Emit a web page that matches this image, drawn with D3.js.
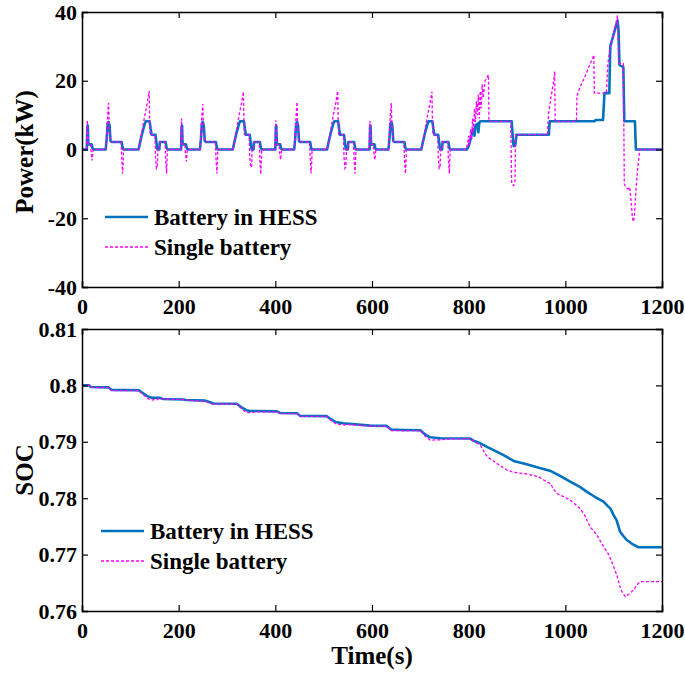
<!DOCTYPE html>
<html><head><meta charset="utf-8">
<script src="https://cdn.jsdelivr.net/npm/d3@7"></script>
<style>body{margin:0;background:#fff}svg{display:block}text{font-family:"Liberation Serif","Times New Roman",serif;font-weight:bold}</style>
</head><body>
<script>
// ---- data ----
const timeTicks = [0,200,400,600,800,1000,1200];
const powerTicks = [-40,-20,0,20,40];
const socTicks = [0.76,0.77,0.78,0.79,0.8,0.81];
const seriesNames = ["Battery in HESS","Single battery"];

const powerHESS = [
[0,0],[10,0],[11,6.5],[12,7],[13,2],[14,1.5],[20,1.5],[22,0.3],[24,0],[49,0],[51,3],[53,7.5],[55,8],[57,7],[59,2.5],[61,2.2],[82,2.2],[84,0.5],[86,0],[117,0],[120,2],[125,5],[130,7.5],[132,8.2],[140,8.2],[142,6],[144,4.3],[152,4.3],[154,2],[156,0],[160,0],[161,2.2],[173,2.2],[175,0.5],[177,0],
[205,0],[206,6.5],[207,7],[208,2],[209,1.5],[215,1.5],[217,0.3],[219,0],[244,0],[246,3],[248,7.5],[250,8],[252,7],[254,2.5],[256,2.2],[277,2.2],[279,0.5],[281,0],[312,0],[315,2],[320,5],[325,7.5],[327,8.2],[335,8.2],[337,6],[339,4.3],[347,4.3],[349,2],[351,0],[355,0],[356,2.2],[368,2.2],[370,0.5],[372,0],
[400,0],[401,6.5],[402,7],[403,2],[404,1.5],[410,1.5],[412,0.3],[414,0],[439,0],[441,3],[443,7.5],[445,8],[447,7],[449,2.5],[451,2.2],[472,2.2],[474,0.5],[476,0],[507,0],[510,2],[515,5],[520,7.5],[522,8.2],[530,8.2],[532,6],[534,4.3],[542,4.3],[544,2],[546,0],[550,0],[551,2.2],[563,2.2],[565,0.5],[567,0],
[595,0],[596,6.5],[597,7],[598,2],[599,1.5],[605,1.5],[607,0.3],[609,0],[634,0],[636,3],[638,7.5],[640,8],[642,7],[644,2.5],[646,2.2],[667,2.2],[669,0.5],[671,0],[702,0],[705,2],[710,5],[715,7.5],[717,8.2],[725,8.2],[727,6],[729,4.3],[737,4.3],[739,2],[741,0],[745,0],[746,2.2],[758,2.2],[760,0.5],[762,0],
[796,0],[800,1],[804,3],[808,5.5],[810,6],[812,4],[814,7],[818,7.5],[820,5],[822,7.8],[824,8.2],[889,8.2],[891,4],[893,1],[896,1],[898,3],[899,4.3],[966,4.3],[967,7],[968,8.2],[1060,8.2],[1063,8.6],[1078,8.6],[1081,16.4],[1091,16.4],[1093,30],[1097,32],[1102,34.5],[1108,37.5],[1110,35],[1112,24.6],[1120,24],[1122,8.2],[1144,8.2],[1146,0],[1200,0]
];

const powerSingle = [
[0,0],[9,0],[10,4],[11,8.5],[12,5],[13,1.5],[18,1.5],[19,-1],[21,-3.2],[22,-1.5],[23,0],[49,0],[51,4],[53,10],[55,13.5],[56,8],[58,3],[61,2.2],[81,2.2],[82,-2],[84,-7],[85,-5],[86,0],[117,0],[120,2],[125,6],[130,10],[135,13.5],[139,17],[140,8.5],[141,4.3],[151,4.3],[152,-2],[154,-5.5],[156,-5],[157,0],[160,0],[161,2.2],[172,2.2],[173,-3],[175,-7],[176,-3],[177,0],
[204,0],[205,4],[206,9],[207,5],[208,1.5],[213,1.5],[214,-1],[216,-3.5],[217,-1.5],[218,0],[244,0],[246,4],[248,10],[250,13.2],[251,8],[253,3],[256,2.2],[276,2.2],[277,-2],[279,-7],[280,-5],[281,0],[312,0],[315,2],[320,6],[325,10],[330,13.5],[334,16.8],[335,8.5],[336,4.3],[346,4.3],[347,-2],[349,-5.2],[351,-5],[352,0],[355,0],[356,2.2],[367,2.2],[368,-3],[370,-7.2],[371,-3],[372,0],
[399,0],[400,4],[401,8.5],[402,5],[403,1.5],[408,1.5],[409,-1],[411,-3],[412,-1.5],[413,0],[439,0],[441,4],[443,10],[445,13.8],[446,8],[448,3],[451,2.2],[471,2.2],[472,-2],[474,-7],[475,-5],[476,0],[507,0],[510,2],[515,6],[520,10],[525,13.5],[529,17],[530,8.5],[531,4.3],[541,4.3],[542,-2],[544,-5.5],[546,-5],[547,0],[550,0],[551,2.2],[562,2.2],[563,-3],[565,-7],[566,-3],[567,0],
[594,0],[595,4],[596,8.3],[597,5],[598,1.5],[603,1.5],[604,-1],[606,-3],[607,-1.5],[608,0],[634,0],[636,4],[638,10],[640,13.5],[641,8],[643,3],[646,2.2],[666,2.2],[667,-2],[669,-7],[670,-5],[671,0],[702,0],[705,2],[710,6],[715,10],[720,13.5],[724,16.8],[725,8.5],[726,4.3],[736,4.3],[737,-2],[739,-5.5],[741,-5],[742,0],[745,0],[746,2.2],[757,2.2],[758,-3],[760,-7],[761,-3],[762,0],
[795,0],[798,2],[800,4],[802,1],[804,6],[806,3],[808,9],[810,5],[812,12],[814,8],[816,14],[818,10],[820,16],[822,9],[824,17],[826,12],[828,19],[830,15],[834,20],[838,21],[841,21.7],[842,8.2],[887,8.2],[889,-10],[893,-10.5],[896,-9],[897,4.3],[963,4.3],[965,10],[970,15],[975,19],[978,22.7],[979,8.2],[1023,8.2],[1024,15.5],[1030,18],[1040,21],[1050,24.5],[1055,26],[1059,27.5],[1060,16.4],[1085,16.4],[1088,25],[1093,30],[1100,34],[1105,37],[1108,39],[1110,26],[1112,25],[1120,25],[1122,-10],[1125,-11],[1130,-11.5],[1133,-11],[1136,-15],[1139,-20],[1141,-21],[1143,-19],[1146,-12],[1150,-5],[1154,0],[1200,0]
];

const socHESS = [
[0,0.8],[15,0.8],[18,0.79972],[55,0.79965],[61,0.7992],[117,0.79915],[125,0.7987],[135,0.7981],[144,0.79782],[160,0.7978],[168,0.7976],[210,0.7975],[215,0.7974],[255,0.7973],[262,0.7971],[272,0.7968],[320,0.79675],[330,0.7961],[340,0.7956],[348,0.79546],[403,0.7954],[410,0.7951],[445,0.79505],[451,0.7946],[506,0.79455],[515,0.794],[525,0.7935],[540,0.79328],[596,0.79286],[630,0.79282],[640,0.79215],[665,0.7921],[700,0.79205],[710,0.7913],[720,0.7908],[741,0.79062],[803,0.79058],[810,0.7902],[824,0.78973],[840,0.789],[858,0.78825],[875,0.7875],[893,0.7866],[920,0.786],[945,0.78541],[968,0.78488],[990,0.7839],[1010,0.78293],[1030,0.782],[1044,0.78116],[1060,0.7803],[1079,0.77938],[1088,0.7786],[1093,0.7782],[1100,0.777],[1106,0.7761],[1113,0.7741],[1120,0.7733],[1127,0.77259],[1140,0.7718],[1151,0.7713],[1200,0.7713]
];

const socSingle = [
[0,0.8],[15,0.8],[18,0.79965],[55,0.7996],[61,0.7991],[117,0.79905],[125,0.7985],[135,0.7977],[144,0.7974],[150,0.7975],[155,0.79745],[160,0.7977],[168,0.7976],[210,0.7975],[215,0.7974],[255,0.7972],[262,0.7969],[272,0.79665],[290,0.7967],[320,0.7967],[330,0.7959],[340,0.7952],[350,0.79515],[360,0.7953],[403,0.7953],[410,0.795],[445,0.795],[451,0.7945],[506,0.7945],[515,0.7938],[525,0.7932],[540,0.793],[555,0.79305],[596,0.7928],[630,0.79275],[640,0.792],[665,0.79195],[700,0.792],[710,0.791],[720,0.7903],[741,0.79035],[760,0.7905],[803,0.79055],[824,0.7894],[838,0.78736],[858,0.78618],[879,0.785],[893,0.7846],[920,0.78429],[945,0.7838],[955,0.78323],[968,0.78264],[982,0.78086],[1010,0.77968],[1030,0.7782],[1040,0.777],[1051,0.77495],[1065,0.7735],[1079,0.7714],[1090,0.77],[1100,0.76786],[1108,0.766],[1113,0.76431],[1118,0.7633],[1124,0.76254],[1132,0.763],[1141,0.76372],[1148,0.7646],[1155,0.7652],[1200,0.7652]
];

// ---- drawing ----
const W = 685, H = 676;
const blue = "#0072BD", magenta = "#FF00FF";
const svg = d3.select("body").append("svg").attr("width", W).attr("height", H);

const x = d3.scaleLinear().domain([0,1200]).range([82,662]);
const yP = d3.scaleLinear().domain([-40,40]).range([287,12]);
const yS = d3.scaleLinear().domain([0.76,0.81]).range([611,329]);

function panel(y, yTicks, yFmt, hessData, singleData, legendPos, yTitle, yTitleY) {
  const [y0, y1] = y.range();
  const g = svg.append("g");
  const line = d3.line().x(d => x(d[0])).y(d => y(d[1]));
  const clipId = "clip" + Math.round(y1);
  svg.append("clipPath").attr("id", clipId).append("rect")
    .attr("x", 82).attr("y", y1).attr("width", 580).attr("height", y0 - y1);
  const lines = g.append("g").attr("clip-path", `url(#${clipId})`);
  lines.append("path").datum(hessData).attr("d", line).attr("fill","none")
    .attr("stroke", blue).attr("stroke-width", 2.6).attr("stroke-linejoin","round");
  lines.append("path").datum(singleData).attr("d", line).attr("fill","none")
    .attr("stroke", magenta).attr("stroke-width", 1.3).attr("stroke-dasharray","3,2");

  const tl = 6;
  const fs = "22px";
  const ab = g.append("g").attr("transform", `translate(0,${y0})`)
    .call(d3.axisBottom(x).tickValues(timeTicks).tickSize(-tl).tickPadding(11).tickFormat(d => String(d)));
  const at = g.append("g").attr("transform", `translate(0,${y1})`)
    .call(d3.axisTop(x).tickValues(timeTicks).tickSize(-tl).tickFormat(""));
  const al = g.append("g").attr("transform", `translate(82,0)`)
    .call(d3.axisLeft(y).tickValues(yTicks).tickSize(-tl).tickPadding(5).tickFormat(yFmt));
  const ar = g.append("g").attr("transform", `translate(662,0)`)
    .call(d3.axisRight(y).tickValues(yTicks).tickSize(-tl).tickFormat(""));
  [ab, at, al, ar].forEach(a => {
    a.select(".domain").attr("stroke","#000").attr("stroke-width",1.5);
    a.selectAll(".tick line").attr("stroke","#000").attr("stroke-width",1.2);
    a.selectAll("text").attr("fill","#000").style("font-size", fs)
      .style("font-family",'"Liberation Serif","Times New Roman",serif').style("font-weight","bold");
  });
  ab.selectAll("text").attr("dy","0.71em");

  svg.append("text").attr("transform", `translate(33,${yTitleY}) rotate(-90)`)
    .attr("text-anchor","middle").style("font-size","25px").text(yTitle);

  const [lx, ly] = legendPos;
  const leg = svg.append("g");
  leg.append("line").attr("x1", lx).attr("x2", lx + 43).attr("y1", ly).attr("y2", ly)
    .attr("stroke", blue).attr("stroke-width", 2.6);
  leg.append("text").attr("x", lx + 49).attr("y", ly + 8).style("font-size","23px").text(seriesNames[0]);
  leg.append("line").attr("x1", lx).attr("x2", lx + 43).attr("y1", ly + 30).attr("y2", ly + 30)
    .attr("stroke", magenta).attr("stroke-width", 1.3).attr("stroke-dasharray","3,2");
  leg.append("text").attr("x", lx + 49).attr("y", ly + 38).style("font-size","23px").text(seriesNames[1]);
}

panel(yP, powerTicks, d => String(d), powerHESS, powerSingle, [105, 217], "Power(kW)", 152);
panel(yS, socTicks, d => String(+d.toFixed(2)), socHESS, socSingle, [101, 531], "SOC", 470);

svg.append("text").attr("x", 372).attr("y", 664).attr("text-anchor","middle")
  .style("font-size","25px").text("Time(s)");
</script>
</body></html>
